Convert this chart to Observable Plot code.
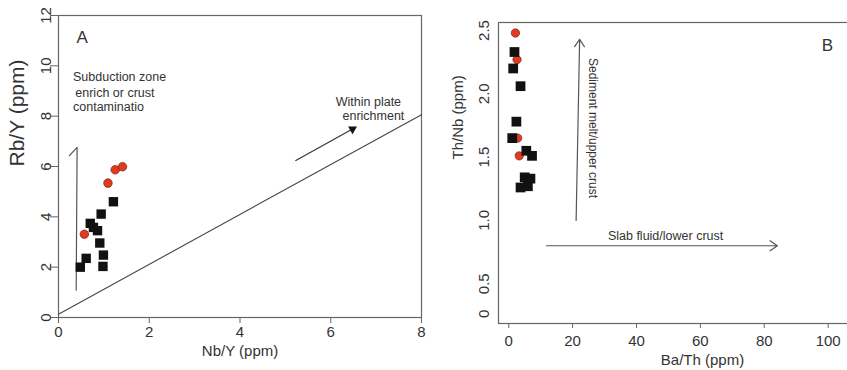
<!DOCTYPE html>
<html><head><meta charset="utf-8">
<script src="https://cdn.jsdelivr.net/npm/d3@7"></script>
<script src="https://cdn.jsdelivr.net/npm/@observablehq/plot@0.6"></script>
<style>
body{margin:0;background:#fff;}
#wrap{position:relative;width:847px;height:370px;overflow:hidden;background:#fff;}
#a{position:absolute;left:0;top:0;width:440px;height:370px;}
#b{position:absolute;left:440px;top:0;width:410px;height:370px;}
#wrap svg{max-width:none !important;}
</style></head><body><div id="wrap"><div id="a"></div><div id="b"></div></div>
<script>
// ---------- Panel A data ----------
const aSquareX = [0.48, 0.61, 0.70, 0.77, 0.86, 0.91, 0.94, 0.99, 0.98, 1.21];
const aSquareY = [2.00, 2.35, 3.74, 3.58, 3.45, 2.96, 4.11, 2.48, 2.03, 4.60];
const aCircleX = [0.57, 1.09, 1.25, 1.41];
const aCircleY = [3.31, 5.34, 5.87, 5.99];
const aXTicks = [0, 2, 4, 6, 8];
const aYTicks = [0, 2, 4, 6, 8, 10, 12];
const aDiagX = [0, 8];
const aDiagY = [0.13, 8.06];
const aSubLineX = [0.39, 0.41, 0.24];
const aSubLineY = [1.09, 6.76, 6.43];
const aPlateArrow = {x1: 5.22, y1: 6.23, x2: 6.48, y2: 7.49};
const aLabels = [
  {x: 0.52, y: 11.13, text: "A", size: 17, anchor: "middle"},
  {x: 0.32, y: 9.54, text: "Subduction zone", size: 12.5, anchor: "start"},
  {x: 0.37, y: 8.91, text: "enrich or crust", size: 12.5, anchor: "start"},
  {x: 0.32, y: 8.35, text: "contaminatio", size: 12.5, anchor: "start"},
  {x: 6.83, y: 8.58, text: "Within plate", size: 12.5, anchor: "middle"},
  {x: 6.94, y: 8.02, text: "enrichment", size: 12.5, anchor: "middle"}
];

// ---------- Panel B data ----------
const bSquareX = [1.8, 1.4, 3.7, 2.4, 1.1, 5.5, 7.3, 5.0, 6.8, 3.7, 6.0];
const bSquareY = [2.33, 2.20, 2.06, 1.78, 1.65, 1.55, 1.51, 1.34, 1.33, 1.26, 1.27];
const bCircleX = [2.1, 2.6, 2.8, 3.3];
const bCircleY = [2.48, 2.27, 1.65, 1.51];
const bXTicks = [0, 20, 40, 60, 80, 100];
const bYTicks = [0, 0.5, 1.0, 1.5, 2.0, 2.5];
const bYTickLabels = ["0", "0.5", "1.0", "1.5", "2.0", "2.5"];
const bArrows = [
  {x1: 21.1, y1: 1.00, x2: 22.2, y2: 2.43},
  {x1: 11.8, y1: 0.80, x2: 84.1, y2: 0.80}
];
const bLabels = [
  {x: 49.1, y: 0.88, text: "Slab fluid/lower crust", size: 12.5, rotate: 0},
  {x: 26.4, y: 1.73, text: "Sediment melt/upper crust", size: 12, rotate: 90},
  {x: 99.8, y: 2.38, text: "B", size: 17, rotate: 0}
];

const FONT = '"Liberation Sans", Arial, Helvetica, sans-serif';
const INK = "#333";
const FRAME = "#666";
const RED = "#e5391f";

const zip = (xs, ys) => xs.map((x, i) => ({x, y: ys[i]}));

// ---------- Panel A ----------
const chartA = Plot.plot({
  width: 440, height: 370,
  marginLeft: 58, marginRight: 19, marginTop: 15, marginBottom: 53,
  style: {fontFamily: FONT, background: "transparent", color: INK, maxWidth: "none"},
  x: {domain: [0, 8]},
  y: {domain: [0, 12]},
  marks: [
    Plot.frame({stroke: FRAME, strokeWidth: 1.2}),
    Plot.axisX({ticks: aXTicks, tickSize: 6, tickPadding: 3, fontSize: 15, stroke: FRAME, fill: INK, label: null, tickFormat: d => String(d)}),
    Plot.axisY({ticks: aYTicks, tickSize: 8, tickPadding: 0, fontSize: 15, stroke: FRAME, fill: INK, label: null, tickRotate: -90, textAnchor: "middle", lineAnchor: "bottom", tickFormat: d => String(d)}),
    Plot.text(["Nb/Y (ppm)"], {frameAnchor: "bottom", dy: 38, fontSize: 15, fill: INK, text: d => d}),
    Plot.text(["Rb/Y (ppm)"], {frameAnchor: "left", dx: -41, rotate: -90, fontSize: 21, fill: INK, text: d => d}),
    Plot.line(zip(aDiagX, aDiagY), {x: "x", y: "y", stroke: "#444", strokeWidth: 1.1}),
    Plot.line(zip(aSubLineX, aSubLineY), {x: "x", y: "y", stroke: "#555", strokeWidth: 1.2}),
    Plot.link([aPlateArrow], {x1: "x1", y1: "y1", x2: "x2", y2: "y2", stroke: "#333", strokeWidth: 1.1}),
    Plot.dot([aPlateArrow], {x: "x2", y: "y2", symbol: "triangle", r: 3.3, rotate: 60.6, fill: "#111", stroke: "none"}),
    Plot.text(aLabels.filter(d => d.anchor === "start"), {x: "x", y: "y", text: "text", fontSize: 12.5, textAnchor: "start", fill: INK}),
    Plot.text(aLabels.filter(d => d.anchor === "middle"), {x: "x", y: "y", text: "text", fontSize: "size", textAnchor: "middle", fill: INK}),
    Plot.dot(zip(aSquareX, aSquareY), {x: "x", y: "y", symbol: "square", r: 5.3, fill: "#111", stroke: "none"}),
    Plot.dot(zip(aCircleX, aCircleY), {x: "x", y: "y", r: 4.3, fill: RED, stroke: "#5a1a10", strokeWidth: 0.6})
  ]
});
document.getElementById("a").appendChild(chartA);

// ---------- Panel B ----------
// The original's y axis places "0" closer to "0.5" than the other steps; compress below 0.5.
const bSquash = v => v >= 0.5 ? v : 0.5 - (0.5 - v) * (30 / 63.25);
const chartB = Plot.plot({
  width: 410, height: 370,
  marginLeft: 58, marginRight: 0, marginTop: 22, marginBottom: 47,
  style: {fontFamily: FONT, background: "transparent", color: INK, maxWidth: "none"},
  x: {domain: [-3.2, 107]},
  y: {transform: bSquash, domain: [0.186, 2.563]},
  marks: [
    Plot.frame({stroke: FRAME, strokeWidth: 1.2}),
    Plot.axisX({ticks: bXTicks, tickSize: 5, tickPadding: 7, fontSize: 15, stroke: FRAME, fill: INK, label: null, tickFormat: d => String(d)}),
    Plot.axisY({ticks: bYTicks.map(bSquash), tickSize: 0, tickPadding: 10, fontSize: 15, fill: INK, label: null, tickRotate: -90, textAnchor: "middle", lineAnchor: "bottom", tickFormat: (d, i) => bYTickLabels[i]}),
    Plot.text(["Ba/Th (ppm)"], {frameAnchor: "bottom", dx: 28, dy: 41, fontSize: 15, fill: INK, text: d => d}),
    Plot.text(["Th/Nb (ppm)"], {frameAnchor: "left", dx: -40, dy: -13.5, rotate: -90, fontSize: 15, fill: INK, text: d => d}),
    Plot.arrow(bArrows, {x1: "x1", y1: "y1", x2: "x2", y2: "y2", stroke: "#555", strokeWidth: 1.2, headLength: 11, headAngle: 68}),
    Plot.text(bLabels, {x: "x", y: "y", text: "text", fontSize: "size", rotate: "rotate", fill: INK}),
    Plot.dot(zip(bCircleX, bCircleY), {x: "x", y: "y", r: 4.2, fill: RED, stroke: "#5a1a10", strokeWidth: 0.6}),
    Plot.dot(zip(bSquareX, bSquareY), {x: "x", y: "y", symbol: "square", r: 5.5, fill: "#111", stroke: "none"})
  ]
});
document.getElementById("b").appendChild(chartB);
</script>
</body></html>
